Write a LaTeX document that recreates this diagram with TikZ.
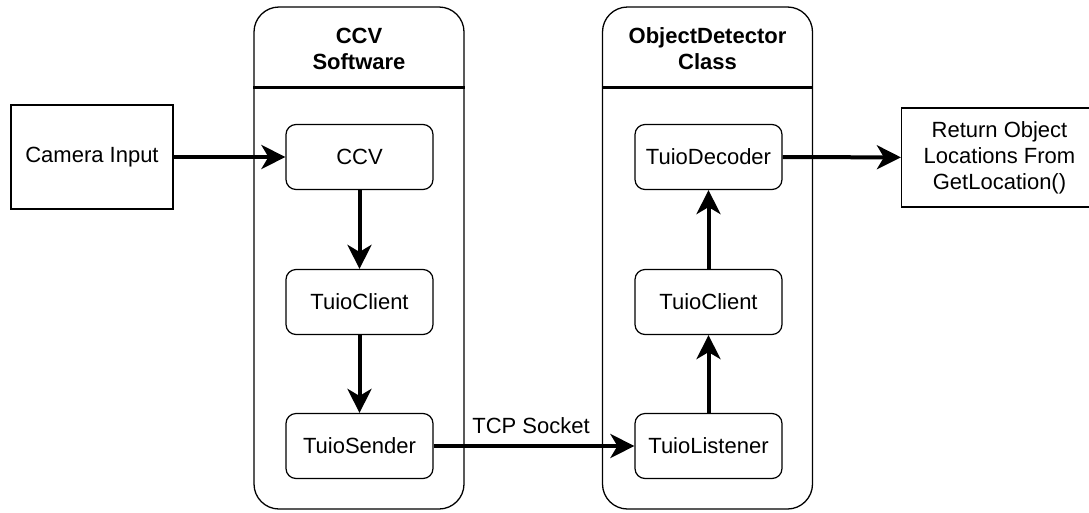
\documentclass[tikz,border=0pt]{standalone}
\usepackage{fontspec}
\setmainfont{Liberation Sans}
\usetikzlibrary{arrows.meta}
\begin{document}
\begin{tikzpicture}[x=1pt,y=-1pt,
  txt/.style={font=\fontsize{22}{26}\selectfont},
  lane/.style={draw, line width=1.3pt, rounded corners=25pt, minimum width=210pt, minimum height=502pt, inner sep=0pt},
  lanetitle/.style={font=\bfseries\fontsize{22}{26}\selectfont, align=center, inner sep=0pt},
  headline/.style={line width=3pt},
  proc/.style={txt, draw, line width=1.2pt, rounded corners=10pt, minimum width=147pt, minimum height=65pt, inner sep=0pt},
  ext/.style={txt, draw, line width=1.2pt, align=center, inner sep=0pt},
  flow/.style={line width=4pt, -{Stealth[length=24pt,width=24pt,inset=7pt]}}]
\useasboundingbox (0,0) rectangle (1089,512);

% swimlanes
\node[lane] (ccvlane) at (359,258) {};
\node[lane] (odlane) at (707.5,258) {};
\draw[headline] (ccvlane.west |- 0,87) -- (ccvlane.east |- 0,87);
\draw[headline] (odlane.west |- 0,87) -- (odlane.east |- 0,87);
\node[lanetitle] (ccvtitle) at (359,49) {CCV\\Software};
\node[lanetitle] (odtitle) at (707.5,49) {ObjectDetector\\Class};

% external boxes
\node[ext, minimum width=162pt, minimum height=104pt] (cam) at (92,157) {Camera Input};
\node[ext, minimum width=196pt, minimum height=99pt] (ret) at (999.5,157.5) {Return Object\\Locations From\\GetLocation()};

% CCV software steps
\node[proc] (ccv) at (359.5,157) {CCV};
\node[proc] (client1) at (359.5,302) {TuioClient};
\node[proc] (sender) at (359.5,446) {TuioSender};

% ObjectDetector steps
\node[proc] (decoder) at (708.5,157) {TuioDecoder};
\node[proc] (client2) at (708.5,302) {TuioClient};
\node[proc] (listener) at (708.5,446) {TuioListener};

% flows
\draw[flow] (cam) -- (ccv);
\draw[flow] (ccv) -- (client1);
\draw[flow] (client1) -- (sender);
\draw[flow] (sender) -- node[txt, above=8pt, inner sep=2pt, xshift=-3pt] (tcp) {TCP Socket} (listener);
\draw[flow] (listener) -- (client2);
\draw[flow] (client2) -- (decoder);
\draw[flow] (decoder) -- (ret);
\end{tikzpicture}
\end{document}
